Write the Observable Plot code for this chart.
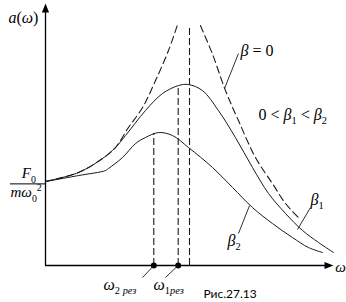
<!DOCTYPE html>
<html><head><meta charset="utf-8">
<script src="https://cdn.jsdelivr.net/npm/d3@7"></script>
<script src="https://cdn.jsdelivr.net/npm/@observablehq/plot@0.6"></script>
<style>body{margin:0;background:#fff} svg{display:block}</style>
</head><body><div id="chart"></div>
<script>
// β = 0 (undamped) curve, left and right branches
const omegaB0L = [0, 0.229, 0.396, 0.486, 0.576, 0.674, 0.764, 0.854, 0.915];
const aB0L     = [1.0, 1.107, 1.274, 1.405, 1.643, 1.881, 2.202, 2.560, 2.857];
const omegaB0R = [1.076, 1.158, 1.25, 1.340, 1.458, 1.576, 1.667, 1.757];
const aB0R     = [2.857, 2.524, 2.083, 1.726, 1.286, 0.976, 0.738, 0.571];
// β1 curve
const omegaB1 = [0, 0.229, 0.396, 0.486, 0.556, 0.694, 0.8125, 0.924, 0.993, 1.090, 1.201, 1.319, 1.4375, 1.549, 1.667, 1.785, 1.896, 2.0];
const aB1     = [1.0, 1.107, 1.274, 1.405, 1.548, 1.845, 2.048, 2.143, 2.155, 2.083, 1.845, 1.524, 1.167, 0.857, 0.619, 0.417, 0.274, 0.155];
// β2 curve
const omegaB2 = [0, 0.229, 0.417, 0.4375, 0.535, 0.625, 0.694, 0.785, 0.882, 0.993, 1.160, 1.299, 1.4375, 1.576, 1.715, 1.826, 1.924];
const aB2     = [1.0, 1.071, 1.131, 1.155, 1.286, 1.452, 1.524, 1.583, 1.548, 1.405, 1.167, 0.929, 0.690, 0.500, 0.333, 0.214, 0.155];
// resonance frequencies and peak amplitudes, asymptote
const resOmega = [0.752, 0.9215];
const resA = [1.571, 2.143];
const omega0 = 1.0;
const asymTop = 2.857;

// labels
const labelText  = ["a(ω)", "β = 0", "0 < β_{1} < β_{2}", "β_{1}", "β_{2}", "ω_{2 рез}", "ω_{1рез}"];
const labelOmega = [-0.257, 1.354, 1.479, 1.840, 1.264, 0.403, 0.75];
const labelA     = [2.952, 2.56, 1.798, 0.786, 0.298, -0.226, -0.226];
const fracText  = ["F_{0}", "mω_{0}^{2}"];
const fracOmega = [-0.165, -0.243];
const fracA     = [1.095, 0.87];
const axisLabel = "ω";
const axisLabelOmega = 2.049, axisLabelA = -0.024;
// leader lines
const leadX1 = [1.340, 1.840, 1.340, 0.674, 0.833];
const leadY1 = [2.524, 0.690, 0.381, -0.143, -0.143];
const leadX2 = [1.243, 1.75, 1.417, resOmega[0], resOmega[1]];
const leadY2 = [2.107, 0.429, 0.714, 0, 0];
const captionText = "Рис.27.13";
const captionOmega = 1.097, captionA = -0.345;
const fracLineA = 0.972, fracLeft = -0.243;
const xMax = 2, yMax = 3.12;

const rows = (xs, ys) => xs.map((x, i) => ({x, y: ys[i]}));
const labels = labelText.map((t, i) => ({t, x: labelOmega[i], y: labelA[i]}));
const fracLabels = fracText.map((t, i) => ({t, x: fracOmega[i], y: fracA[i]}));
const leads = leadX1.map((x1, i) => ({x1, y1: leadY1[i], x2: leadX2[i], y2: leadY2[i]}));
const resRows = resOmega.map((x, i) => ({x, y: resA[i]}));

const arrowHead = {draw(ctx) { ctx.moveTo(0, 0); ctx.lineTo(3.6, 9); ctx.lineTo(-3.6, 9); ctx.closePath(); }};
const ink = "#1a1a1a";

const chart = Plot.plot({
  width: 346, height: 302,
  marginLeft: 45, marginRight: 13, marginTop: 3, marginBottom: 37,
  x: {domain: [0, xMax], axis: null},
  y: {domain: [0, yMax], axis: null},
  style: {background: "#fff", fontFamily: "'Liberation Serif', serif"},
  marks: [
    Plot.ruleX([0], {y1: 0, y2: yMax - 0.05, stroke: "#000", strokeWidth: 1.3}),
    Plot.ruleY([0], {x1: 0, x2: xMax - 0.03, stroke: "#000", strokeWidth: 1.3}),
    Plot.dot([{x: 0, y: yMax}], {x: "x", y: "y", symbol: arrowHead, fill: "#000", stroke: "none", r: 4}),
    Plot.dot([{x: xMax, y: 0}], {x: "x", y: "y", symbol: arrowHead, fill: "#000", stroke: "none", r: 4, rotate: 90}),
    Plot.ruleY([fracLineA], {x1: fracLeft, x2: 0, stroke: "#000", strokeWidth: 1}),
    Plot.line(rows(omegaB0L, aB0L), {x: "x", y: "y", curve: "catmull-rom", stroke: ink, strokeWidth: 1.1, strokeDasharray: "7,4"}),
    Plot.line(rows(omegaB0R, aB0R), {x: "x", y: "y", curve: "catmull-rom", stroke: ink, strokeWidth: 1.1, strokeDasharray: "7,4"}),
    Plot.line(rows(omegaB1, aB1), {x: "x", y: "y", curve: "catmull-rom", stroke: ink, strokeWidth: 1}),
    Plot.line(rows(omegaB2, aB2), {x: "x", y: "y", curve: "catmull-rom", stroke: ink, strokeWidth: 1}),
    Plot.ruleX(resRows, {x: "x", y1: 0, y2: "y", stroke: ink, strokeWidth: 1.1, strokeDasharray: "7,3"}),
    Plot.ruleX([omega0], {y1: 0, y2: asymTop, stroke: ink, strokeWidth: 1.1, strokeDasharray: "7,3"}),
    Plot.dot(resOmega, {x: d => d, y: 0, r: 3, fill: "#000", stroke: "none"}),
    Plot.link(leads, {x1: "x1", y1: "y1", x2: "x2", y2: "y2", stroke: ink, strokeWidth: 0.9}),
    Plot.text(labels, {x: "x", y: "y", text: "t", textAnchor: "start", fontSize: 16, fill: "#000"}),
    Plot.text(fracLabels, {x: "x", y: "y", text: "t", textAnchor: "start", fontSize: 15, fill: "#000"}),
    Plot.text([axisLabel], {x: axisLabelOmega, y: axisLabelA, text: d => d, textAnchor: "middle", fontSize: 15, fill: "#000"}),
    Plot.text([captionText], {x: captionOmega, y: captionA, text: d => d, textAnchor: "start", fontSize: 12, fontFamily: "Lato, sans-serif", fill: "#000"})
  ]
});
document.getElementById("chart").appendChild(chart);

// rich text: subscripts, superscripts and italic letters
function richify(el) {
  const s = el.textContent;
  const fs = parseFloat(getComputedStyle(el).fontSize) || 16;
  const parts = s.split(/(_\{[^}]*\}|\^\{[^}]*\})/).filter(p => p.length);
  el.textContent = "";
  let cur = 0;
  const ns = "http://www.w3.org/2000/svg";
  for (const p of parts) {
    let kind = "n", body = p;
    if (p.startsWith("_{")) { kind = "sub"; body = p.slice(2, -1); }
    else if (p.startsWith("^{")) { kind = "sup"; body = p.slice(2, -1); }
    const target = kind === "sub" ? fs * 0.3 : kind === "sup" ? -fs * 0.42 : 0;
    const runs = body.match(/([A-Za-z\u0370-\u03FF\u0400-\u04FF]+|[^A-Za-z\u0370-\u03FF\u0400-\u04FF]+)/g) || [];
    let first = true;
    for (const r of runs) {
      const ts = document.createElementNS(ns, "tspan");
      ts.textContent = r;
      if (/[A-Za-z\u0370-\u03FF\u0400-\u04FF]/.test(r)) ts.setAttribute("font-style", "italic");
      if (kind !== "n") ts.setAttribute("font-size", (fs * 0.65).toFixed(1));
      if (first && target !== cur) { ts.setAttribute("dy", (target - cur).toFixed(2)); cur = target; }
      first = false;
      el.appendChild(ts);
    }
  }
}
chart.querySelectorAll("text").forEach(t => { if (!t.textContent.startsWith("Рис")) richify(t); });
</script>
</body></html>
